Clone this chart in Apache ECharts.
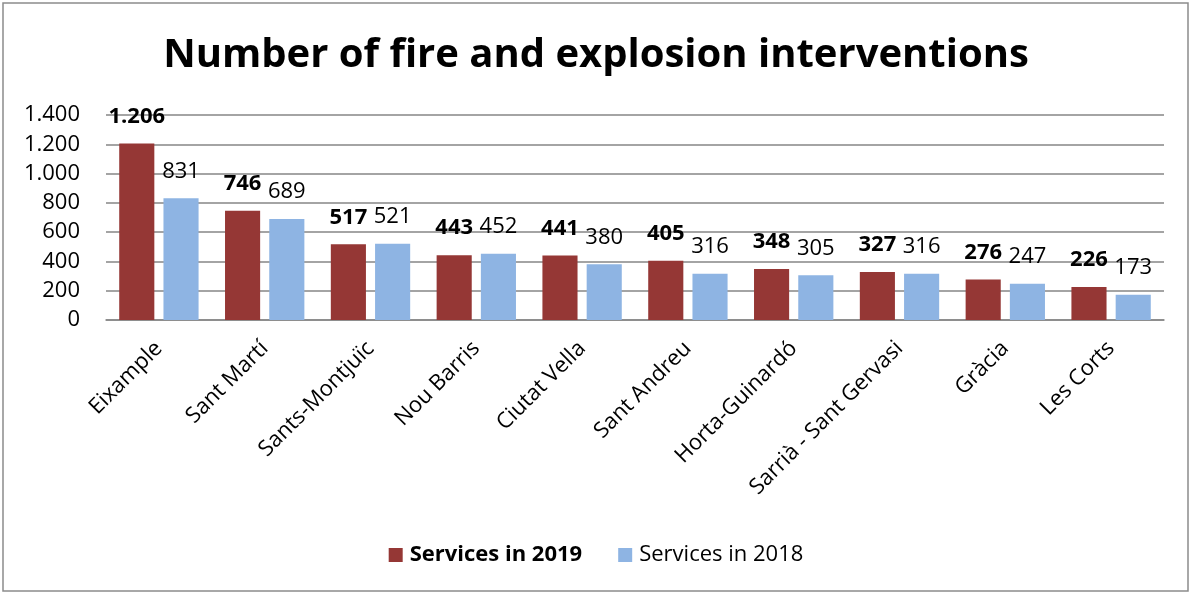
<!DOCTYPE html>
<html><head><meta charset="utf-8">
<script src="https://cdn.jsdelivr.net/npm/echarts@6/dist/echarts.min.js"></script>
<style>html,body{margin:0;padding:0;background:#fff}#c{width:1192px;height:595px}</style>
</head><body><div id="c"></div>
<script>
const categories = ["Eixample","Sant Martí","Sants-Montjuïc","Nou Barris","Ciutat Vella","Sant Andreu","Horta-Guinardó","Sarrià - Sant Gervasi","Gràcia","Les Corts"];
const services2019 = [1206,746,517,443,441,405,348,327,276,226];
const services2018 = [831,689,521,452,380,316,305,316,247,173];
const yTicks = [0,200,400,600,800,1000,1200,1400];

const fmt = v => String(v).replace(/\B(?=(\d{3})+(?!\d))/g, '.');
const FONT = 'Open Sans';
const chart = echarts.init(document.getElementById('c'));
chart.setOption({
  animation:false,
  graphic:[{type:'rect',shape:{x:3,y:3,width:1185,height:588},style:{fill:'none',stroke:'#8c8c8c',lineWidth:1.5}}],
  title:{text:'Number of fire and explosion interventions',left:'center',top:31,
    textStyle:{fontFamily:FONT,fontWeight:'bold',fontSize:40,color:'#000'}},
  legend:{bottom:24,left:'center',itemWidth:14,itemHeight:14,itemGap:36,icon:'rect',
    textStyle:{fontFamily:FONT,fontSize:22,color:'#000',padding:[0,0,0,2]},
    data:[{name:'Services in 2019',textStyle:{fontWeight:'bold'}},{name:'Services in 2018'}]},
  grid:{left:106,right:28,top:115,height:205,containLabel:false},
  xAxis:{type:'category',data:categories,
    axisLine:{lineStyle:{color:'#868686',width:1.5}},axisTick:{show:false},
    axisLabel:{rotate:45,fontFamily:FONT,fontSize:22,color:'#000',margin:25,interval:0}},
  yAxis:{type:'value',min:0,max:1400,interval:200,
    axisLine:{show:false},axisTick:{show:false},
    splitLine:{lineStyle:{color:'#868686',width:1.5}},
    axisLabel:{fontFamily:FONT,fontSize:22,color:'#000',margin:26,
      formatter:v=>yTicks.includes(v)?fmt(v):''}},
  series:[
    {name:'Services in 2019',type:'bar',data:services2019,barGap:'26%',barCategoryGap:'25%',
      itemStyle:{color:'#953735'},
      label:{show:true,position:'top',distance:16,fontFamily:FONT,fontSize:22,fontWeight:'bold',color:'#000',formatter:p=>fmt(p.value)}},
    {name:'Services in 2018',type:'bar',data:services2018,
      itemStyle:{color:'#8eb4e3'},
      label:{show:true,position:'top',distance:16,fontFamily:FONT,fontSize:22,color:'#000',formatter:p=>fmt(p.value)}}
  ]
});
</script></body></html>
